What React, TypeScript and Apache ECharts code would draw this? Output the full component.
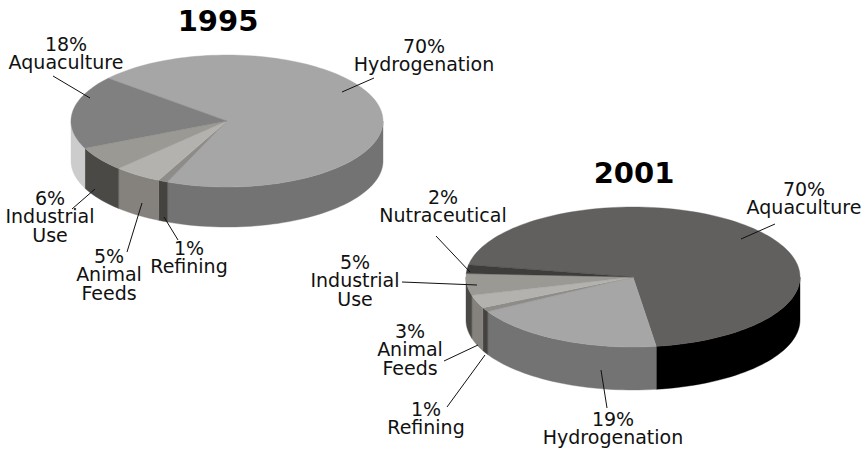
import React, { useEffect, useRef } from "react";
import * as echarts from "echarts";

const names1995 = ["Hydrogenation", "Refining", "Animal Feeds", "Industrial Use", "Aquaculture"];
const values1995 = [70, 1, 5, 6, 18];
const names2001 = ["Aquaculture", "Hydrogenation", "Refining", "Animal Feeds", "Industrial Use", "Nutraceutical"];
const values2001 = [70, 19, 1, 3, 5, 2];

const colours: Record<string, { top: string; side: string }> = {
  Hydrogenation: { top: "#a6a6a6", side: "#737373" },
  Refining: { top: "#8e8c88", side: "#444340" },
  "Animal Feeds": { top: "#b3b2ae", side: "#85827d" },
  "Industrial Use": { top: "#9b9994", side: "#4a4946" },
  Aquaculture: { top: "#808080", side: "#cccccc" },
  Nutraceutical: { top: "#3f3d3c", side: "#3f3d3c" },
};
const colours2001: Record<string, { top: string; side: string }> = {
  ...colours,
  Aquaculture: { top: "#62605e", side: "#000000" },
};

const FONT = '"DejaVu Sans", Verdana, sans-serif';
const pie1995 = { cx: 227, cy: 121, rx: 156, ry: 66, depth: 40, start: 220.4 };
const pie2001 = { cx: 633, cy: 277, rx: 167, ry: 70, depth: 43, start: 190 };

const titles = [
  { text: "1995", x: 218, y: 21 },
  { text: "2001", x: 634, y: 173 },
];
const labels = [
  { text: "18%\nAquaculture", x: 66, y: 53 },
  { text: "70%\nHydrogenation", x: 424, y: 55 },
  { text: "6%\nIndustrial\nUse", x: 50, y: 216 },
  { text: "5%\nAnimal\nFeeds", x: 109, y: 274 },
  { text: "1%\nRefining", x: 189, y: 257 },
  { text: "70%\nAquaculture", x: 804, y: 198 },
  { text: "2%\nNutraceutical", x: 443, y: 206 },
  { text: "5%\nIndustrial\nUse", x: 355, y: 280 },
  { text: "3%\nAnimal\nFeeds", x: 410, y: 349 },
  { text: "1%\nRefining", x: 426, y: 418 },
  { text: "19%\nHydrogenation", x: 613, y: 428 },
];
const leaders = [
  [53, 76, 90, 98],
  [374, 78, 342, 92],
  [95, 189, 72, 209],
  [142, 203, 127, 252],
  [164, 217, 178, 240],
  [775, 224, 741, 239],
  [436, 236, 470, 272],
  [402, 282, 477, 285],
  [444, 361, 478, 345],
  [447, 407, 485, 355],
  [601, 370, 607, 408],
];

type Pie = typeof pie1995;

function pt(p: Pie, deg: number, dy = 0): number[] {
  const t = (deg * Math.PI) / 180;
  return [p.cx + p.rx * Math.cos(t), p.cy + p.ry * Math.sin(t) + dy];
}

function arc(p: Pie, a: number, b: number, dy = 0): number[][] {
  const out: number[][] = [];
  const n = Math.max(2, Math.ceil(Math.abs(b - a) / 2));
  for (let i = 0; i <= n; i++) out.push(pt(p, a + ((b - a) * i) / n, dy));
  return out;
}

function pieSeries(
  p: Pie,
  names: string[],
  values: number[],
  palette: Record<string, { top: string; side: string }>,
) {
  const total = values.reduce((s, v) => s + v, 0);
  const sweep = values.map((v) => (v / total) * 360);
  const starts = sweep.map((_, i) => p.start + sweep.slice(0, i).reduce((s, v) => s + v, 0));
  return {
    type: "custom",
    coordinateSystem: "none",
    data: names.map((name, i) => ({ name, value: values[i] })),
    renderItem: (params: any) => {
      const i = params.dataIndex;
      const col = palette[names[i]];
      const a = starts[i];
      const b = a + sweep[i];
      const children: any[] = [];
      // visible part of the outer wall: the front half of the ellipse
      for (const [lo, hi] of [[0, 180], [360, 540]]) {
        const s = Math.max(a, lo);
        const e = Math.min(b, hi);
        if (e > s) {
          const pts = [...arc(p, s, e), ...arc(p, e, s, p.depth)];
          children.push({
            type: "polygon",
            shape: { points: pts },
            style: { fill: col.side, stroke: col.side, lineWidth: 0.4 },
            z2: 1,
          });
        }
      }
      children.push({
        type: "polygon",
        shape: { points: [[p.cx, p.cy], ...arc(p, a, b)] },
        style: { fill: col.top, stroke: col.top, lineWidth: 0.4 },
        z2: 2,
      });
      return { type: "group", children };
    },
  };
}

export default function App() {
  const ref = useRef<HTMLDivElement>(null);
  useEffect(() => {
    const chart = echarts.init(ref.current!, undefined, { renderer: "svg" });
    const graphic: any[] = [
      ...titles.map((t) => ({
        type: "text",
        z: 10,
        style: {
          text: t.text,
          x: t.x,
          y: t.y,
          textAlign: "center",
          textVerticalAlign: "middle",
          font: `bold 29px ${FONT}`,
          fill: "#000000",
        },
      })),
      ...labels.map((l) => ({
        type: "text",
        z: 10,
        style: {
          text: l.text,
          x: l.x,
          y: l.y,
          textAlign: "center",
          textVerticalAlign: "middle",
          font: `19px ${FONT}`,
          lineHeight: 18.5,
          fill: "#111111",
        },
      })),
      ...leaders.map((c) => ({
        type: "line",
        z: 10,
        shape: { x1: c[0], y1: c[1], x2: c[2], y2: c[3] },
        style: { stroke: "#111111", lineWidth: 1 },
      })),
    ];
    chart.setOption({
      animation: false,
      backgroundColor: "#ffffff",
      graphic,
      series: [
        pieSeries(pie1995, names1995, values1995, colours),
        pieSeries(pie2001, names2001, values2001, colours2001),
      ],
    });
    return () => chart.dispose();
  }, []);
  return <div ref={ref} style={{ position: "absolute", left: 0, top: 0, width: 868, height: 450 }} />;
}
